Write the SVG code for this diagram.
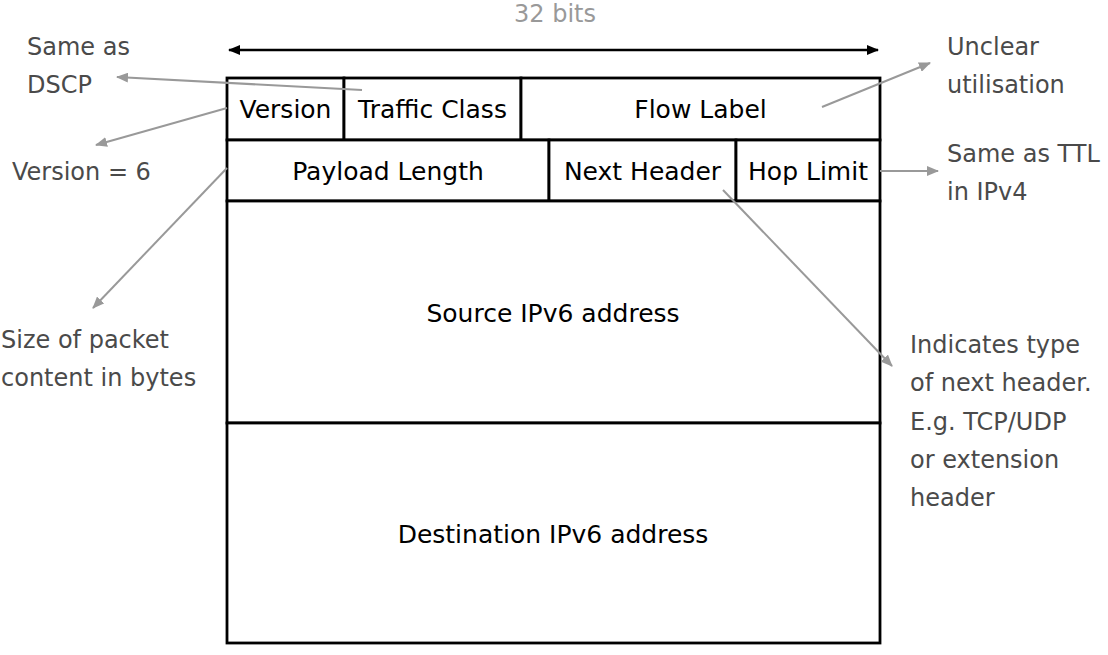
<svg xmlns="http://www.w3.org/2000/svg" width="1108" height="655" viewBox="0 0 1108 655">
<style>
.cell{fill:#fff;stroke:#000;stroke-width:2.8}
.lbl{font-family:"DejaVu Sans",sans-serif;font-size:25px;fill:#000;text-anchor:middle}
.note{font-family:"DejaVu Sans",sans-serif;font-size:24px;fill:#4a4a4a}
.con{stroke:#999;stroke-width:2;fill:none;marker-end:url(#ga)}
</style>
<defs>
<marker id="ga" viewBox="0 0 12 10" refX="11" refY="5" markerWidth="12" markerHeight="10" markerUnits="userSpaceOnUse" orient="auto">
<path d="M0,0 L12,5 L0,10 z" fill="#999"/>
</marker>
<marker id="ba" viewBox="0 0 12 10" refX="11" refY="5" markerWidth="12" markerHeight="10" markerUnits="userSpaceOnUse" orient="auto-start-reverse">
<path d="M0,0 L12,5 L0,10 z" fill="#000"/>
</marker>
</defs>
<rect width="1108" height="655" fill="#fff"/>
<g id="width">
<text x="555" y="22" style="font-family:'DejaVu Sans',sans-serif;font-size:24px;fill:#999;text-anchor:middle">32 bits</text>
<line x1="229" y1="50" x2="878" y2="50" stroke="#000" stroke-width="2.5" marker-start="url(#ba)" marker-end="url(#ba)"/>
</g>
<g id="version"><rect class="cell" x="227" y="78" width="117" height="62"/><text class="lbl" x="285.5" y="118">Version</text></g>
<g id="traffic-class"><rect class="cell" x="344" y="78" width="177" height="62"/><text class="lbl" x="432.5" y="118">Traffic Class</text></g>
<g id="flow-label"><rect class="cell" x="521" y="78" width="359" height="62"/><text class="lbl" x="700.5" y="118">Flow Label</text></g>
<g id="payload-length"><rect class="cell" x="227" y="140" width="322" height="61"/><text class="lbl" x="388" y="180">Payload Length</text></g>
<g id="next-header"><rect class="cell" x="549" y="140" width="187" height="61"/><text class="lbl" x="642.5" y="180">Next Header</text></g>
<g id="hop-limit"><rect class="cell" x="736" y="140" width="144" height="61"/><text class="lbl" x="808" y="180">Hop Limit</text></g>
<g id="source"><rect class="cell" x="227" y="201" width="653" height="222"/><text class="lbl" x="553" y="322">Source IPv6 address</text></g>
<g id="destination"><rect class="cell" x="227" y="423" width="653" height="220"/><text class="lbl" x="553" y="543">Destination IPv6 address</text></g>
<g id="notes">
<text class="note" x="27" y="55">Same as</text>
<text class="note" x="27" y="93">DSCP</text>
<text class="note" x="12" y="180">Version = 6</text>
<text class="note" x="1" y="348">Size of packet</text>
<text class="note" x="1" y="386">content in bytes</text>
<text class="note" x="947" y="55">Unclear</text>
<text class="note" x="947" y="93">utilisation</text>
<text class="note" x="947" y="162">Same as TTL</text>
<text class="note" x="947" y="200">in IPv4</text>
<text class="note" x="910" y="353">Indicates type</text>
<text class="note" x="910" y="391">of next header.</text>
<text class="note" x="910" y="430">E.g. TCP/UDP</text>
<text class="note" x="910" y="468">or extension</text>
<text class="note" x="910" y="506">header</text>
</g>
<g id="connectors">
<line class="con" x1="362" y1="90" x2="117" y2="77"/>
<line class="con" x1="227" y1="108" x2="96" y2="145"/>
<line class="con" x1="227" y1="168" x2="93" y2="308"/>
<line class="con" x1="822" y1="107" x2="930" y2="63"/>
<line class="con" x1="880" y1="171" x2="938" y2="171"/>
<line class="con" x1="723" y1="190" x2="892" y2="366"/>
</g>
</svg>
